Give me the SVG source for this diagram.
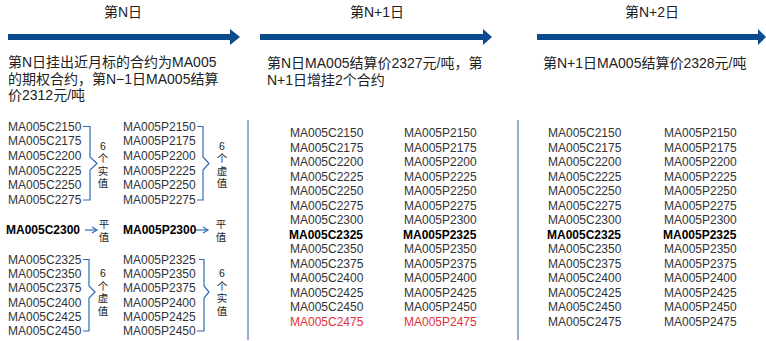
<svg xmlns="http://www.w3.org/2000/svg" width="766" height="341" viewBox="0 0 766 341">
<style>
  text { font-family: "Liberation Sans", "Noto Sans CJK SC", sans-serif; fill: #222; }
  .title { font-size: 14px; text-anchor: middle; }
  .desc { font-size: 14px; }
  .item { font-size: 12px; fill: #333; }
  .bold { font-size: 12px; font-weight: bold; fill: #000; }
  .red { font-size: 12px; fill: #E0303A; }
  .lab { font-size: 10.5px; text-anchor: middle; fill: #222; }
  .arrow { fill: #0B4A8C; }
  .br { fill: none; stroke: #2F6DB5; stroke-width: 1.2; }
  .sep { stroke: #2F5FA0; stroke-width: 1; }
</style>
<defs>
  <marker id="chev" markerWidth="8" markerHeight="8" refX="6" refY="4" orient="auto" markerUnits="userSpaceOnUse">
    <path d="M1,1 L6,4 L1,7" fill="none" stroke="#2F6DB5" stroke-width="1.2"/>
  </marker>
</defs>

<g id="timeline">
  <polygon class="arrow" points="8,34 230,34 230,29 240,37 230,45 230,40 8,40"/>
  <polygon class="arrow" points="260,34 483,34 483,29 492,37 483,45 483,40 260,40"/>
  <polygon class="arrow" points="537,34 758,34 758,29 766,37 758,45 758,40 537,40"/>
  <line class="sep" x1="248" y1="120" x2="248" y2="340"/>
  <line class="sep" x1="518" y1="120" x2="518" y2="340"/>
</g>

<g id="day-n">
  <text class="title" x="123" y="17">第N日</text>
  <text class="desc" x="8" y="67">第N日挂出近月标的合约为MA005</text>
  <text class="desc" x="8" y="83.5">的期权合约，第N−1日MA005结算</text>
  <text class="desc" x="8" y="100">价2312元/吨</text>

  <g id="c-itm">
    <text class="item" x="8" y="130.5">MA005C2150</text>
    <text class="item" x="8" y="145.2">MA005C2175</text>
    <text class="item" x="8" y="159.9">MA005C2200</text>
    <text class="item" x="8" y="174.6">MA005C2225</text>
    <text class="item" x="8" y="189.3">MA005C2250</text>
    <text class="item" x="8" y="204">MA005C2275</text>
    <path class="br" d="M83,126.5 H90 V157 L97,163.5 L90,170 V200 H83"/>
    <text class="lab" x="103" y="149.5">6</text>
    <text class="lab" x="103" y="162">个</text>
    <text class="lab" x="103" y="174.5">实</text>
    <text class="lab" x="103" y="187">值</text>
  </g>
  <g id="p-otm">
    <text class="item" x="123" y="130.5">MA005P2150</text>
    <text class="item" x="123" y="145.2">MA005P2175</text>
    <text class="item" x="123" y="159.9">MA005P2200</text>
    <text class="item" x="123" y="174.6">MA005P2225</text>
    <text class="item" x="123" y="189.3">MA005P2250</text>
    <text class="item" x="123" y="204">MA005P2275</text>
    <path class="br" d="M197,126.5 H203 V157 L209,163.5 L203,170 V200 H197"/>
    <text class="lab" x="222" y="149.5">6</text>
    <text class="lab" x="222" y="162">个</text>
    <text class="lab" x="222" y="174.5">虚</text>
    <text class="lab" x="222" y="187">值</text>
  </g>
  <g id="atm">
    <text class="bold" x="6" y="234.3">MA005C2300</text>
    <line class="br" x1="85" y1="230" x2="97" y2="230" marker-end="url(#chev)"/>
    <text class="lab" x="104" y="228">平</text>
    <text class="lab" x="104" y="240.5">值</text>
    <text class="bold" x="123" y="234.3">MA005P2300</text>
    <line class="br" x1="196" y1="230" x2="208" y2="230" marker-end="url(#chev)"/>
    <text class="lab" x="221" y="228">平</text>
    <text class="lab" x="221" y="240.5">值</text>
  </g>
  <g id="c-otm">
    <text class="item" x="8" y="263.5">MA005C2325</text>
    <text class="item" x="8" y="277.9">MA005C2350</text>
    <text class="item" x="8" y="292.2">MA005C2375</text>
    <text class="item" x="8" y="306.6">MA005C2400</text>
    <text class="item" x="8" y="320.9">MA005C2425</text>
    <text class="item" x="8" y="335.3">MA005C2450</text>
    <path class="br" d="M83,259.5 H89 V286 L95,292 L89,298 V331 H83"/>
    <text class="lab" x="103" y="277">6</text>
    <text class="lab" x="103" y="289.5">个</text>
    <text class="lab" x="103" y="302">虚</text>
    <text class="lab" x="103" y="314.5">值</text>
  </g>
  <g id="p-itm">
    <text class="item" x="123" y="263.5">MA005P2325</text>
    <text class="item" x="123" y="277.9">MA005P2350</text>
    <text class="item" x="123" y="292.2">MA005P2375</text>
    <text class="item" x="123" y="306.6">MA005P2400</text>
    <text class="item" x="123" y="320.9">MA005P2425</text>
    <text class="item" x="123" y="335.3">MA005P2450</text>
    <path class="br" d="M199,259.5 H204 V286 L209,292 L204,298 V331 H197"/>
    <text class="lab" x="222" y="277">6</text>
    <text class="lab" x="222" y="289.5">个</text>
    <text class="lab" x="222" y="302">实</text>
    <text class="lab" x="222" y="314.5">值</text>
  </g>
</g>

<g id="day-n1">
  <text class="title" x="377" y="17">第N+1日</text>
  <text class="desc" x="267" y="68">第N日MA005结算价2327元/吨，第</text>
  <text class="desc" x="267" y="85">N+1日增挂2个合约</text>
  <g id="n1-calls">
    <text class="item" x="290" y="137">MA005C2150</text>
    <text class="item" x="290" y="151.5">MA005C2175</text>
    <text class="item" x="290" y="166">MA005C2200</text>
    <text class="item" x="290" y="180.5">MA005C2225</text>
    <text class="item" x="290" y="195">MA005C2250</text>
    <text class="item" x="290" y="209.5">MA005C2275</text>
    <text class="item" x="290" y="224">MA005C2300</text>
    <text class="bold" x="289" y="238.5">MA005C2325</text>
    <text class="item" x="290" y="253">MA005C2350</text>
    <text class="item" x="290" y="267.5">MA005C2375</text>
    <text class="item" x="290" y="282">MA005C2400</text>
    <text class="item" x="290" y="296.5">MA005C2425</text>
    <text class="item" x="290" y="311">MA005C2450</text>
    <text class="red" x="290" y="325.5">MA005C2475</text>
  </g>
  <g id="n1-puts">
    <text class="item" x="404" y="137">MA005P2150</text>
    <text class="item" x="404" y="151.5">MA005P2175</text>
    <text class="item" x="404" y="166">MA005P2200</text>
    <text class="item" x="404" y="180.5">MA005P2225</text>
    <text class="item" x="404" y="195">MA005P2250</text>
    <text class="item" x="404" y="209.5">MA005P2275</text>
    <text class="item" x="404" y="224">MA005P2300</text>
    <text class="bold" x="403" y="238.5">MA005P2325</text>
    <text class="item" x="404" y="253">MA005P2350</text>
    <text class="item" x="404" y="267.5">MA005P2375</text>
    <text class="item" x="404" y="282">MA005P2400</text>
    <text class="item" x="404" y="296.5">MA005P2425</text>
    <text class="item" x="404" y="311">MA005P2450</text>
    <text class="red" x="404" y="325.5">MA005P2475</text>
  </g>
</g>

<g id="day-n2">
  <text class="title" x="652" y="17">第N+2日</text>
  <text class="desc" x="543" y="67.5">第N+1日MA005结算价2328元/吨</text>
  <g id="n2-calls">
    <text class="item" x="548" y="137">MA005C2150</text>
    <text class="item" x="548" y="151.5">MA005C2175</text>
    <text class="item" x="548" y="166">MA005C2200</text>
    <text class="item" x="548" y="180.5">MA005C2225</text>
    <text class="item" x="548" y="195">MA005C2250</text>
    <text class="item" x="548" y="209.5">MA005C2275</text>
    <text class="item" x="548" y="224">MA005C2300</text>
    <text class="bold" x="547" y="238.5">MA005C2325</text>
    <text class="item" x="548" y="253">MA005C2350</text>
    <text class="item" x="548" y="267.5">MA005C2375</text>
    <text class="item" x="548" y="282">MA005C2400</text>
    <text class="item" x="548" y="296.5">MA005C2425</text>
    <text class="item" x="548" y="311">MA005C2450</text>
    <text class="item" x="548" y="325.5">MA005C2475</text>
  </g>
  <g id="n2-puts">
    <text class="item" x="664" y="137">MA005P2150</text>
    <text class="item" x="664" y="151.5">MA005P2175</text>
    <text class="item" x="664" y="166">MA005P2200</text>
    <text class="item" x="664" y="180.5">MA005P2225</text>
    <text class="item" x="664" y="195">MA005P2250</text>
    <text class="item" x="664" y="209.5">MA005P2275</text>
    <text class="item" x="664" y="224">MA005P2300</text>
    <text class="bold" x="663" y="238.5">MA005P2325</text>
    <text class="item" x="664" y="253">MA005P2350</text>
    <text class="item" x="664" y="267.5">MA005P2375</text>
    <text class="item" x="664" y="282">MA005P2400</text>
    <text class="item" x="664" y="296.5">MA005P2425</text>
    <text class="item" x="664" y="311">MA005P2450</text>
    <text class="item" x="664" y="325.5">MA005P2475</text>
  </g>
</g>
</svg>
